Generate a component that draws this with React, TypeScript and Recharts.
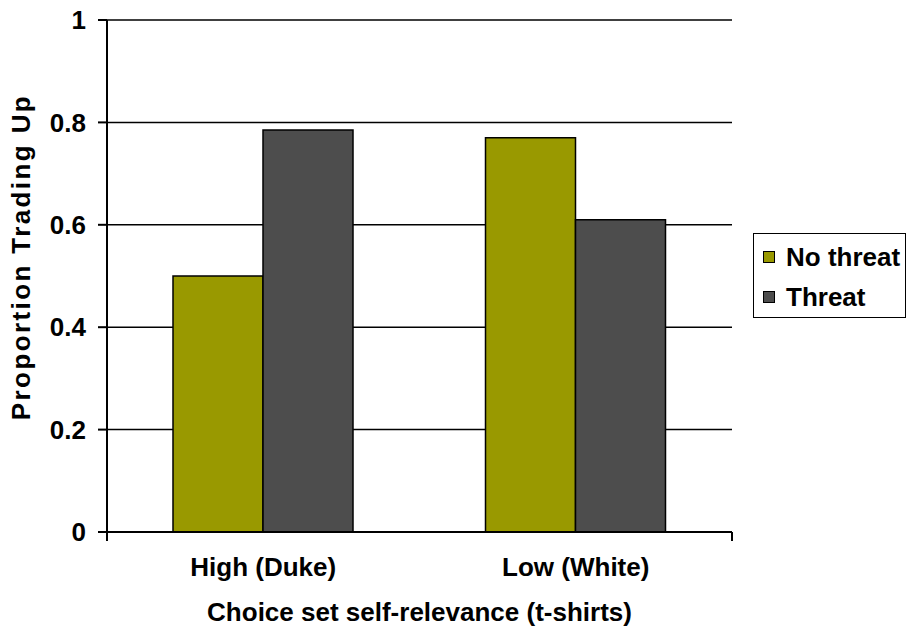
import { BarChart, Bar, XAxis, YAxis, CartesianGrid, Legend, ReferenceLine } from 'recharts';

const CATEGORIES = ['High (Duke)', 'Low (White)'];
const NO_THREAT = [0.5, 0.77];
const THREAT = [0.785, 0.61];
const Y_TICKS = [0, 0.2, 0.4, 0.6, 0.8, 1];
const BOUNDARY_TICKS = [0, 1, 2];

const SERIES = [
  { key: 'noThreat', name: 'No threat', color: '#999900' },
  { key: 'threat', name: 'Threat', color: '#4d4d4d' },
];

const data = CATEGORIES.map((c, i) => ({
  category: c,
  noThreat: NO_THREAT[i],
  threat: THREAT[i],
}));

const FONT = '"Liberation Sans", Arial, sans-serif';
const textStyle = { fontFamily: FONT, fontWeight: 700, fontSize: 26, fill: '#000' };

function YTitle(props: any) {
  const vb = props.viewBox || { x: 0, y: 20, width: 107, height: 512 };
  const x = vb.x + 21;
  const y = vb.y + vb.height / 2 - 19;
  return (
    <text
      x={x}
      y={y}
      transform={`rotate(-90 ${x} ${y})`}
      textAnchor="middle"
      dominantBaseline="central"
      style={{ ...textStyle, letterSpacing: 2.4 }}
    >
      Proportion Trading Up
    </text>
  );
}

function XTitle(props: any) {
  const vb = props.viewBox || { x: 107, y: 541, width: 625, height: 90 };
  return (
    <text x={vb.x + vb.width / 2} y={vb.y + 80} textAnchor="middle" style={textStyle}>
      Choice set self-relevance (t-shirts)
    </text>
  );
}

function LegendBox(props: any) {
  const items = props.payload || [];
  return (
    <div
      style={{
        border: '1.5px solid #000',
        background: '#fff',
        width: 151,
        height: 80,
        boxSizing: 'content-box',
        fontFamily: FONT,
        fontWeight: 700,
        fontSize: 26,
        paddingTop: 3,
      }}
    >
      {items.map((it: any) => (
        <div key={it.value} style={{ display: 'flex', alignItems: 'center', height: 40 }}>
          <span
            style={{
              display: 'inline-block',
              width: 10,
              height: 10,
              border: '1px solid #000',
              background: it.color,
              marginLeft: 9,
              marginRight: 11,
            }}
          />
          <span style={{ lineHeight: '40px' }}>{it.value}</span>
        </div>
      ))}
    </div>
  );
}

export default function App() {
  return (
    <div style={{ position: 'absolute', left: 0, top: 0, background: '#fff' }}>
      <BarChart
        width={908}
        height={631}
        data={data}
        margin={{ top: 20, right: 176, left: 0, bottom: 0 }}
        barGap={0}
      >
        <CartesianGrid xAxisId="a" vertical={false} stroke="#000" strokeWidth={1.5} />
        <XAxis
          xAxisId="a"
          type="number"
          domain={[0, 2]}
          ticks={BOUNDARY_TICKS}
          tickFormatter={() => ''}
          tickSize={9}
          height={9}
          axisLine={{ stroke: '#000', strokeWidth: 2 }}
          tickLine={{ stroke: '#000', strokeWidth: 2 }}
        />
        <XAxis
          xAxisId="b"
          dataKey="category"
          axisLine={false}
          tickLine={false}
          tickSize={0}
          tickMargin={17}
          height={90}
          tick={textStyle}
          label={<XTitle />}
        />
        <YAxis
          width={107}
          domain={[0, 1]}
          ticks={Y_TICKS}
          tickSize={9}
          tickMargin={12}
          axisLine={{ stroke: '#000', strokeWidth: 2 }}
          tickLine={{ stroke: '#000', strokeWidth: 2 }}
          tick={textStyle}
          label={<YTitle />}
        />
        <ReferenceLine xAxisId="a" x={2} stroke="#000" strokeWidth={2} />
        <Legend
          layout="vertical"
          align="center"
          verticalAlign="middle"
          content={<LegendBox />}
          wrapperStyle={{ left: 753, top: 233, width: 154 }}
        />
        {SERIES.map((s) => (
          <Bar
            key={s.key}
            xAxisId="b"
            dataKey={s.key}
            name={s.name}
            fill={s.color}
            stroke="#000"
            strokeWidth={1.5}
            barSize={90}
            isAnimationActive={false}
          />
        ))}
      </BarChart>
    </div>
  );
}
